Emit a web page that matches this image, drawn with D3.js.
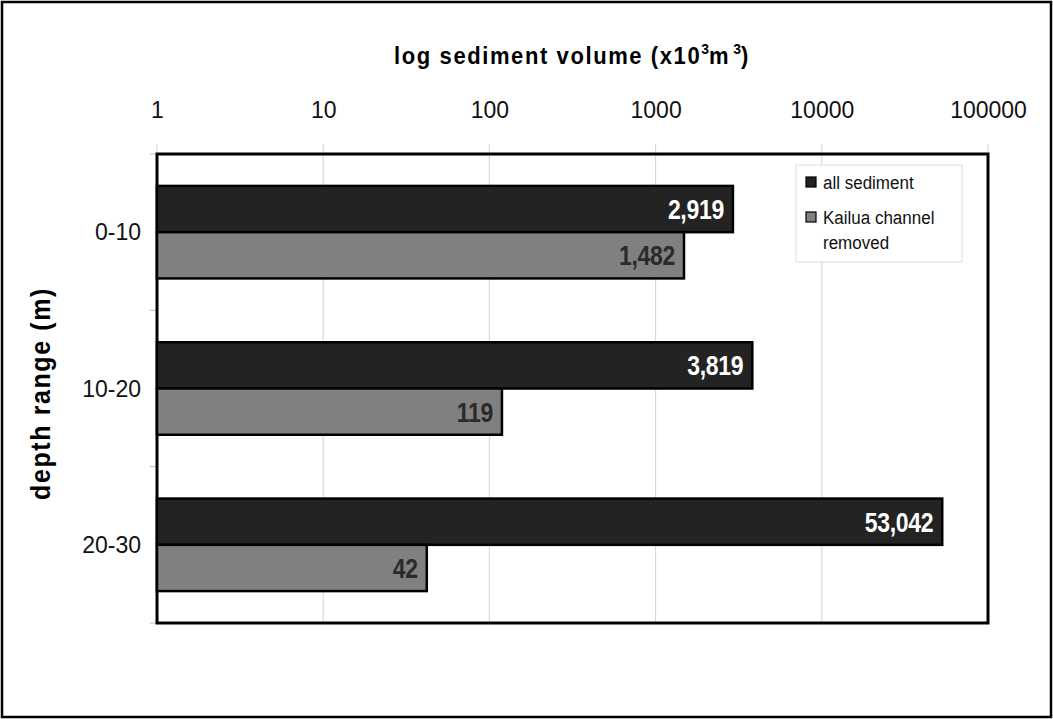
<!DOCTYPE html>
<html><head><meta charset="utf-8">
<script src="https://cdn.jsdelivr.net/npm/d3@7"></script>
<style>body{margin:0;background:#fff}svg{display:block}</style>
</head><body>
<svg id="c" width="1053" height="719"></svg>
<script>
const categories = ["0-10", "10-20", "20-30"];
const seriesNames = ["all sediment", "Kailua channel removed"];
const allSediment = [2919, 3819, 53042];
const kailuaRemoved = [1482, 119, 42];
const tickValues = [1, 10, 100, 1000, 10000, 100000];

const svg = d3.select("#c");
const W = 1053, H = 719;
const m = {left:157, right:988, top:154, bottom:623};
const font = "'Liberation Sans', Arial, sans-serif";

// outer frame
svg.append("rect").attr("x",2).attr("y",2).attr("width",W-4).attr("height",H-4)
  .attr("fill","none").attr("stroke","#000").attr("stroke-width",2.5);

const x = d3.scaleLog().domain([1,100000]).range([m.left, m.right]);
const y = d3.scaleBand().domain(categories).range([m.top, m.bottom]);
const sub = d3.scaleBand().domain(seriesNames).range([0, y.bandwidth()]).paddingOuter(0.69).paddingInner(0);

// grid
svg.append("g").selectAll("line").data(tickValues).join("line")
  .attr("x1",d=>x(d)).attr("x2",d=>x(d)).attr("y1",m.top-10).attr("y2",m.bottom)
  .attr("stroke","#d4d4d4").attr("stroke-width",1);

// top axis
const xAxis = d3.axisTop(x).tickValues(tickValues).tickFormat(d3.format("d")).tickSize(0).tickPadding(0);
const gx = svg.append("g").attr("transform",`translate(0,${m.top-35})`).call(xAxis);
gx.select(".domain").remove();
gx.selectAll("text").attr("font-family",font).attr("font-size",23).attr("fill","#111")
  .attr("transform","scale(1,1.08)").attr("y",-1);

// left axis
const gy = svg.append("g").attr("transform",`translate(${m.left},0)`)
  .call(d3.axisLeft(y).tickSize(0).tickPadding(16));
gy.select(".domain").remove();
gy.selectAll("text").attr("font-family",font).attr("font-size",23).attr("fill","#111").attr("dy","0.36em");
// category boundary ticks
const bounds = categories.map(c=>y(c)).concat([m.bottom]);
svg.append("g").selectAll("line").data(bounds).join("line")
  .attr("x1",m.left-7).attr("x2",m.left).attr("y1",d=>d).attr("y2",d=>d)
  .attr("stroke","#bbb").attr("stroke-width",1);

// plot border
svg.append("rect").attr("x",m.left).attr("y",m.top).attr("width",m.right-m.left).attr("height",m.bottom-m.top)
  .attr("fill","none").attr("stroke","#000").attr("stroke-width",3);

// bars
const rows = categories.map((c,i)=>({c, vals:[allSediment[i], kailuaRemoved[i]]}));
const colors = ["#232323", "#808080"];
const labelColors = ["#fff", "#2a2a2a"];
const fmt = d3.format(",");
const g = svg.append("g");
const sy = 1.22;
rows.forEach(r=>{
  r.vals.forEach((v,j)=>{
    const s = seriesNames[j];
    const y0 = y(r.c)+sub(s);
    g.append("rect").attr("x",x(1)).attr("y",y0).attr("width",x(v)-x(1)).attr("height",sub.bandwidth())
      .attr("fill",colors[j]).attr("stroke","#000").attr("stroke-width",2.5);
    const cy = y0+sub.bandwidth()/2;
    g.append("text").attr("transform",`translate(${x(v)-9},${cy}) scale(1,${sy})`).attr("dy","0.36em")
      .attr("text-anchor","end").attr("font-family",font).attr("font-weight","bold").attr("font-size",23)
      .attr("letter-spacing","-0.3")
      .attr("fill",labelColors[j]).text(fmt(v));
  });
});

// titles
const t = svg.append("text").attr("transform","translate(572,64) scale(1,1.1)").attr("text-anchor","middle")
  .attr("font-family",font).attr("font-weight","bold").attr("font-size",22).attr("fill","#000")
  .attr("letter-spacing","1.6");
t.append("tspan").text("log sediment volume (x10");
t.append("tspan").attr("font-size",14).attr("dy",-9).attr("letter-spacing","0").text("3");
t.append("tspan").attr("dy",9).text("m");
t.append("tspan").attr("font-size",14).attr("dy",-9).attr("dx",3).attr("letter-spacing","0").text("3");
t.append("tspan").attr("dy",9).text(")");

svg.append("text").attr("transform",`translate(50,${(m.top+m.bottom)/2 + 5}) rotate(-90) scale(1,1.1)`)
  .attr("text-anchor","middle").attr("font-family",font).attr("font-weight","bold").attr("font-size",25)
  .attr("letter-spacing","1.6").text("depth range (m)");

// legend
const lg = svg.append("g").attr("transform","translate(796,165)");
lg.append("rect").attr("width",166).attr("height",97).attr("fill","#fff").attr("stroke","#ddd").attr("stroke-width",1);
const legLines = [["all sediment"],["Kailua channel","removed"]];
const legY = [17, 52];
seriesNames.forEach((s,j)=>{
  lg.append("rect").attr("x",10).attr("y",legY[j]-5).attr("width",10).attr("height",10)
    .attr("fill",colors[j]).attr("stroke","#000").attr("stroke-width",1.2);
  const tx = lg.append("text").attr("transform",`translate(27,${legY[j]}) scale(1,1.12)`).attr("dy","0.36em")
    .attr("font-family",font).attr("font-size",17).attr("fill","#111");
  legLines[j].forEach((l,k)=>tx.append("tspan").attr("x",0).attr("dy",k?"1.3em":"0.36em").text(l));
});
</script>
</body></html>
